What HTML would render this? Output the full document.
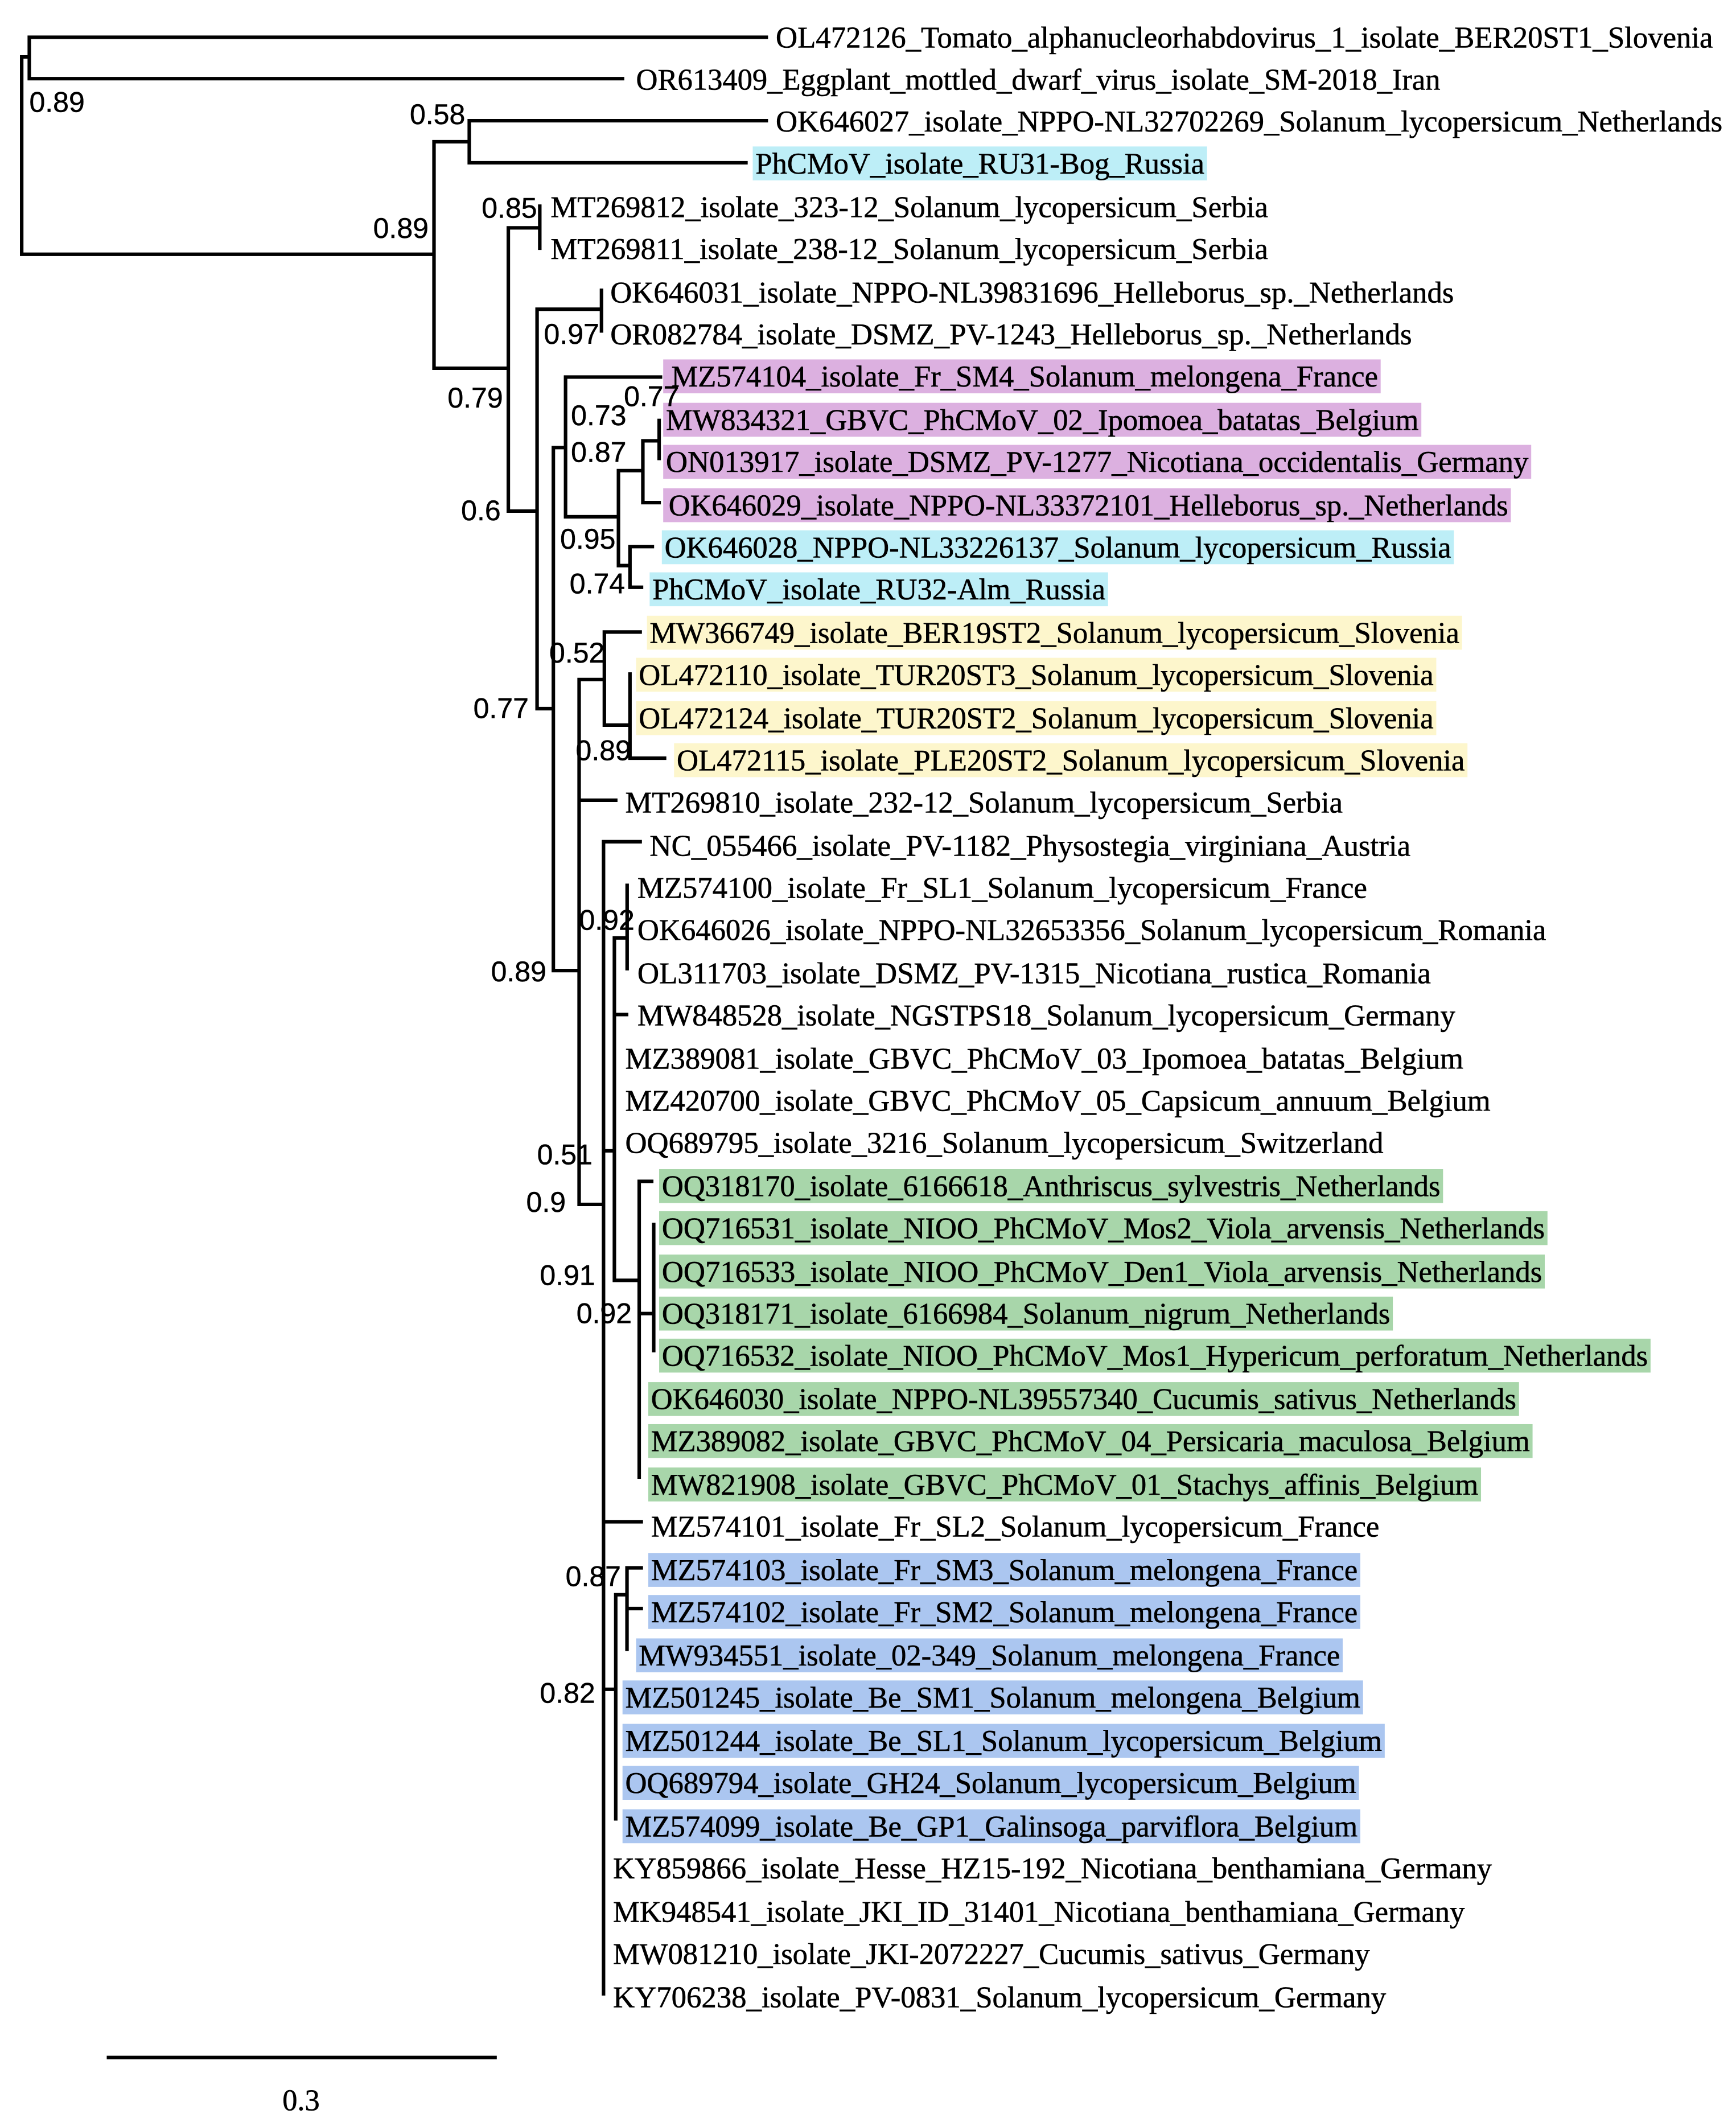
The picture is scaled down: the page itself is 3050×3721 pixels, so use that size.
<!DOCTYPE html>
<html><head><meta charset="utf-8"><style>
html,body{margin:0;padding:0;background:#fff;}
svg{display:block;}
.l{font-family:"Liberation Serif",serif;font-size:22px;fill:#000;stroke:#000;stroke-width:0.25;}
.s{font-family:"Liberation Sans",sans-serif;font-size:21px;fill:#000;stroke:#000;stroke-width:0.2;}
</style></head><body>
<svg width="3050" height="3721" viewBox="0 0 1280 1561.6" preserveAspectRatio="none" xmlns="http://www.w3.org/2000/svg">
<rect width="1280" height="1561.6" fill="#fff"/>
<g>
<rect x="555" y="108" width="335" height="25" fill="#bdeef7"/>
<rect x="489" y="265" width="529" height="25" fill="#dcb0e0"/>
<rect x="489" y="297" width="559" height="25" fill="#dcb0e0"/>
<rect x="489" y="328" width="640" height="25" fill="#dcb0e0"/>
<rect x="489" y="360" width="625" height="25" fill="#dcb0e0"/>
<rect x="488" y="391" width="584" height="25" fill="#bdeef7"/>
<rect x="479" y="422" width="338" height="25" fill="#bdeef7"/>
<rect x="477" y="454" width="601" height="25" fill="#fdf6cc"/>
<rect x="469" y="485" width="590" height="25" fill="#fdf6cc"/>
<rect x="469" y="517" width="590" height="25" fill="#fdf6cc"/>
<rect x="497" y="548" width="585" height="25" fill="#fdf6cc"/>
<rect x="486" y="862" width="578" height="25" fill="#a8d6aa"/>
<rect x="486" y="893" width="655" height="25" fill="#a8d6aa"/>
<rect x="486" y="925" width="653" height="25" fill="#a8d6aa"/>
<rect x="486" y="956" width="541" height="25" fill="#a8d6aa"/>
<rect x="486" y="987" width="731" height="25" fill="#a8d6aa"/>
<rect x="478" y="1019" width="642" height="25" fill="#a8d6aa"/>
<rect x="478" y="1050" width="652" height="25" fill="#a8d6aa"/>
<rect x="478" y="1082" width="614" height="25" fill="#a8d6aa"/>
<rect x="478" y="1145" width="525" height="25" fill="#abc6f0"/>
<rect x="478" y="1176" width="525" height="25" fill="#abc6f0"/>
<rect x="469" y="1208" width="521" height="25" fill="#abc6f0"/>
<rect x="459" y="1239" width="546" height="25" fill="#abc6f0"/>
<rect x="459" y="1271" width="562" height="25" fill="#abc6f0"/>
<rect x="459" y="1302" width="543" height="25" fill="#abc6f0"/>
<rect x="459" y="1334" width="544" height="25" fill="#abc6f0"/>
</g>
<path fill="none" stroke="#000" stroke-width="2.6" stroke-linecap="square" d="
M16 42 V187.5 M16 42 H21.6 M21.6 27.5 V58 M21.6 27.5 H565 M21.6 58 H459
M16 187.5 H320 M320 104.5 V271.5 M320 104.5 H346 M346 89 V120 M346 89 H565 M346 120 H550
M320 271.5 H374.8 M374.8 168 V376.8 M374.8 168 H398 M398 152 V183
M374.8 376.8 H396 M396 228 V522.5 M396 228 H443.5 M443.5 214 V244
M396 522.5 H408 M408 330 V715.6 M408 330 H417 M417 278 V381 M417 278 H487
M417 381 H456 M456 347 V417 M456 347 H474 M474 325 V370.6 M474 325 H486 M486 310 V338 M474 370.6 H486
M456 417 H464.5 M464.5 403 V433 M464.5 403 H481 M464.5 433 H473
M408 715.6 H427 M427 501 V888 M427 501 H445.6 M445.6 466 V534.6 M445.6 466 H472
M445.6 534.6 H464.5 M464.5 497 V559 M464.5 559 H490 M427 590 H454
M427 888 H445 M445 620.6 V1470 M445 620.6 H472 M445 848.5 H453
M453 691.5 V944 M453 691.5 H462.4 M462.4 652.8 V714.2 M453 748 H462
M453 944 H471.3 M471.3 871 V1089 M471.3 871 H480.5 M471.3 968.5 H482 M482 902.8 V995.8
M445 1122 H472.8 M445 1245.5 H454 M454 1175.8 V1341 M454 1175.8 H462.3
M462.3 1156 V1216 M462.3 1156 H472.8 M462.3 1186 H472.8
M80 1517 H365"/>
<g class="l">
<text x="572" y="35" textLength="691" lengthAdjust="spacingAndGlyphs">OL472126_Tomato_alphanucleorhabdovirus_1_isolate_BER20ST1_Slovenia</text>
<text x="469" y="66" textLength="593" lengthAdjust="spacingAndGlyphs">OR613409_Eggplant_mottled_dwarf_virus_isolate_SM-2018_Iran</text>
<text x="572" y="97" textLength="698" lengthAdjust="spacingAndGlyphs">OK646027_isolate_NPPO-NL32702269_Solanum_lycopersicum_Netherlands</text>
<text x="557" y="128" textLength="331" lengthAdjust="spacingAndGlyphs">PhCMoV_isolate_RU31-Bog_Russia</text>
<text x="406" y="160" textLength="529" lengthAdjust="spacingAndGlyphs">MT269812_isolate_323-12_Solanum_lycopersicum_Serbia</text>
<text x="406" y="191" textLength="529" lengthAdjust="spacingAndGlyphs">MT269811_isolate_238-12_Solanum_lycopersicum_Serbia</text>
<text x="450" y="223" textLength="622" lengthAdjust="spacingAndGlyphs">OK646031_isolate_NPPO-NL39831696_Helleborus_sp._Netherlands</text>
<text x="450" y="254" textLength="591" lengthAdjust="spacingAndGlyphs">OR082784_isolate_DSMZ_PV-1243_Helleborus_sp._Netherlands</text>
<text x="495" y="285" textLength="521" lengthAdjust="spacingAndGlyphs">MZ574104_isolate_Fr_SM4_Solanum_melongena_France</text>
<text x="491" y="317" textLength="555" lengthAdjust="spacingAndGlyphs">MW834321_GBVC_PhCMoV_02_Ipomoea_batatas_Belgium</text>
<text x="491" y="348" textLength="636" lengthAdjust="spacingAndGlyphs">ON013917_isolate_DSMZ_PV-1277_Nicotiana_occidentalis_Germany</text>
<text x="493" y="380" textLength="619" lengthAdjust="spacingAndGlyphs">OK646029_isolate_NPPO-NL33372101_Helleborus_sp._Netherlands</text>
<text x="490" y="411" textLength="580" lengthAdjust="spacingAndGlyphs">OK646028_NPPO-NL33226137_Solanum_lycopersicum_Russia</text>
<text x="481" y="442" textLength="334" lengthAdjust="spacingAndGlyphs">PhCMoV_isolate_RU32-Alm_Russia</text>
<text x="479" y="474" textLength="597" lengthAdjust="spacingAndGlyphs">MW366749_isolate_BER19ST2_Solanum_lycopersicum_Slovenia</text>
<text x="471" y="505" textLength="586" lengthAdjust="spacingAndGlyphs">OL472110_isolate_TUR20ST3_Solanum_lycopersicum_Slovenia</text>
<text x="471" y="537" textLength="586" lengthAdjust="spacingAndGlyphs">OL472124_isolate_TUR20ST2_Solanum_lycopersicum_Slovenia</text>
<text x="499" y="568" textLength="581" lengthAdjust="spacingAndGlyphs">OL472115_isolate_PLE20ST2_Solanum_lycopersicum_Slovenia</text>
<text x="461" y="599" textLength="529" lengthAdjust="spacingAndGlyphs">MT269810_isolate_232-12_Solanum_lycopersicum_Serbia</text>
<text x="479" y="631" textLength="561" lengthAdjust="spacingAndGlyphs">NC_055466_isolate_PV-1182_Physostegia_virginiana_Austria</text>
<text x="470" y="662" textLength="538" lengthAdjust="spacingAndGlyphs">MZ574100_isolate_Fr_SL1_Solanum_lycopersicum_France</text>
<text x="470" y="693" textLength="670" lengthAdjust="spacingAndGlyphs">OK646026_isolate_NPPO-NL32653356_Solanum_lycopersicum_Romania</text>
<text x="470" y="725" textLength="585" lengthAdjust="spacingAndGlyphs">OL311703_isolate_DSMZ_PV-1315_Nicotiana_rustica_Romania</text>
<text x="470" y="756" textLength="603" lengthAdjust="spacingAndGlyphs">MW848528_isolate_NGSTPS18_Solanum_lycopersicum_Germany</text>
<text x="461" y="788" textLength="618" lengthAdjust="spacingAndGlyphs">MZ389081_isolate_GBVC_PhCMoV_03_Ipomoea_batatas_Belgium</text>
<text x="461" y="819" textLength="638" lengthAdjust="spacingAndGlyphs">MZ420700_isolate_GBVC_PhCMoV_05_Capsicum_annuum_Belgium</text>
<text x="461" y="850" textLength="559" lengthAdjust="spacingAndGlyphs">OQ689795_isolate_3216_Solanum_lycopersicum_Switzerland</text>
<text x="488" y="882" textLength="574" lengthAdjust="spacingAndGlyphs">OQ318170_isolate_6166618_Anthriscus_sylvestris_Netherlands</text>
<text x="488" y="913" textLength="651" lengthAdjust="spacingAndGlyphs">OQ716531_isolate_NIOO_PhCMoV_Mos2_Viola_arvensis_Netherlands</text>
<text x="488" y="945" textLength="649" lengthAdjust="spacingAndGlyphs">OQ716533_isolate_NIOO_PhCMoV_Den1_Viola_arvensis_Netherlands</text>
<text x="488" y="976" textLength="537" lengthAdjust="spacingAndGlyphs">OQ318171_isolate_6166984_Solanum_nigrum_Netherlands</text>
<text x="488" y="1007" textLength="727" lengthAdjust="spacingAndGlyphs">OQ716532_isolate_NIOO_PhCMoV_Mos1_Hypericum_perforatum_Netherlands</text>
<text x="480" y="1039" textLength="638" lengthAdjust="spacingAndGlyphs">OK646030_isolate_NPPO-NL39557340_Cucumis_sativus_Netherlands</text>
<text x="480" y="1070" textLength="648" lengthAdjust="spacingAndGlyphs">MZ389082_isolate_GBVC_PhCMoV_04_Persicaria_maculosa_Belgium</text>
<text x="480" y="1102" textLength="610" lengthAdjust="spacingAndGlyphs">MW821908_isolate_GBVC_PhCMoV_01_Stachys_affinis_Belgium</text>
<text x="480" y="1133" textLength="537" lengthAdjust="spacingAndGlyphs">MZ574101_isolate_Fr_SL2_Solanum_lycopersicum_France</text>
<text x="480" y="1165" textLength="521" lengthAdjust="spacingAndGlyphs">MZ574103_isolate_Fr_SM3_Solanum_melongena_France</text>
<text x="480" y="1196" textLength="521" lengthAdjust="spacingAndGlyphs">MZ574102_isolate_Fr_SM2_Solanum_melongena_France</text>
<text x="471" y="1228" textLength="517" lengthAdjust="spacingAndGlyphs">MW934551_isolate_02-349_Solanum_melongena_France</text>
<text x="461" y="1259" textLength="542" lengthAdjust="spacingAndGlyphs">MZ501245_isolate_Be_SM1_Solanum_melongena_Belgium</text>
<text x="461" y="1291" textLength="558" lengthAdjust="spacingAndGlyphs">MZ501244_isolate_Be_SL1_Solanum_lycopersicum_Belgium</text>
<text x="461" y="1322" textLength="539" lengthAdjust="spacingAndGlyphs">OQ689794_isolate_GH24_Solanum_lycopersicum_Belgium</text>
<text x="461" y="1354" textLength="540" lengthAdjust="spacingAndGlyphs">MZ574099_isolate_Be_GP1_Galinsoga_parviflora_Belgium</text>
<text x="452" y="1385" textLength="648" lengthAdjust="spacingAndGlyphs">KY859866_isolate_Hesse_HZ15-192_Nicotiana_benthamiana_Germany</text>
<text x="452" y="1417" textLength="628" lengthAdjust="spacingAndGlyphs">MK948541_isolate_JKI_ID_31401_Nicotiana_benthamiana_Germany</text>
<text x="452" y="1448" textLength="558" lengthAdjust="spacingAndGlyphs">MW081210_isolate_JKI-2072227_Cucumis_sativus_Germany</text>
<text x="452" y="1480" textLength="570" lengthAdjust="spacingAndGlyphs">KY706238_isolate_PV-0831_Solanum_lycopersicum_Germany</text>
<text x="222" y="1556" text-anchor="middle">0.3</text>
</g>
<g class="s">
<text x="21.6" y="82.5">0.89</text>
<text x="343" y="91.5" text-anchor="end">0.58</text>
<text x="316" y="175.5" text-anchor="end">0.89</text>
<text x="396" y="160.5" text-anchor="end">0.85</text>
<text x="330" y="300.5">0.79</text>
<text x="340" y="383.5">0.6</text>
<text x="401" y="253.5">0.97</text>
<text x="460" y="299.5">0.77</text>
<text x="421" y="313.5">0.73</text>
<text x="421" y="340.5">0.87</text>
<text x="413" y="404.5">0.95</text>
<text x="420" y="437.5">0.74</text>
<text x="349" y="529.5">0.77</text>
<text x="405" y="488.5">0.52</text>
<text x="424.5" y="560.5">0.89</text>
<text x="362" y="723.5">0.89</text>
<text x="427" y="685.5">0.92</text>
<text x="396" y="858.5">0.51</text>
<text x="388" y="893.5">0.9</text>
<text x="398" y="947.5">0.91</text>
<text x="425" y="975.5">0.92</text>
<text x="417" y="1169.5">0.87</text>
<text x="398" y="1255.5">0.82</text>
</g>
</svg>
</body></html>
